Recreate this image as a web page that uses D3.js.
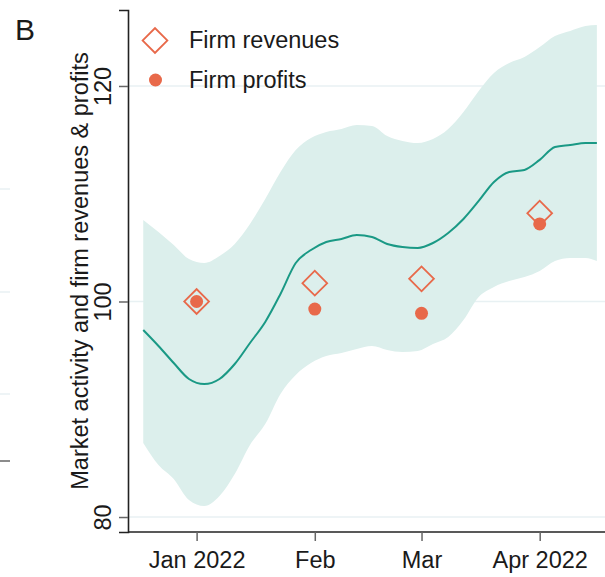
<!DOCTYPE html>
<html>
<head>
<meta charset="utf-8">
<script src="https://cdn.jsdelivr.net/npm/d3@7"></script>
<style>
  body { margin: 0; background: #fff; }
  svg { display: block; font-family: "Liberation Sans", Arial, sans-serif; }
</style>
</head>
<body>
<div id="chart"></div>
<script>
  // smoothed market activity, every 4 days
  var dates = ["2021-12-18", "2021-12-22", "2021-12-26", "2021-12-30", "2022-01-03",
    "2022-01-07", "2022-01-11", "2022-01-15", "2022-01-19", "2022-01-23", "2022-01-27",
    "2022-01-31", "2022-02-04", "2022-02-08", "2022-02-12", "2022-02-16", "2022-02-20",
    "2022-02-24", "2022-02-28", "2022-03-04", "2022-03-08", "2022-03-12", "2022-03-16",
    "2022-03-20", "2022-03-24", "2022-03-28", "2022-04-01", "2022-04-05", "2022-04-09",
    "2022-04-13", "2022-04-16"];
  var activity = [97.35, 95.87, 94.29, 92.81, 92.34, 92.81, 94.2, 96.15, 98.1, 100.7,
    103.57, 104.78, 105.52, 105.8, 106.17, 105.99, 105.34, 105.06, 104.97, 105.43,
    106.36, 107.66, 109.33, 111.09, 112.02, 112.21, 113.14, 114.34, 114.53, 114.71, 114.71];
  var upper = [107.56, 106.45, 105.24, 103.94, 103.57, 104.22, 105.34, 107.19, 109.51,
    112.02, 114.06, 115.17, 115.73, 116.01, 116.38, 116.29, 115.36, 114.9, 114.71, 115.08,
    116.01, 117.59, 119.54, 121.21, 122.14, 122.69, 123.62, 124.64, 125.11, 125.57, 125.66];
  var lower = [86.87, 84.83, 83.53, 81.58, 81.02, 81.95, 83.99, 86.68, 88.63, 91.42,
    93.18, 94.29, 94.94, 95.22, 95.59, 95.87, 95.5, 95.31, 95.41, 96.06, 96.71, 98.28,
    100.42, 101.35, 101.9, 102.27, 102.83, 103.76, 104.04, 104.04, 103.76];

  // monthly firm data
  var months = ["2022-01-01", "2022-02-01", "2022-03-01", "2022-04-01"];
  var monthLabels = ["Jan 2022", "Feb", "Mar", "Apr 2022"];
  var revenues = [100, 101.7, 102.1, 108.2];
  var profits = [100, 99.3, 98.9, 107.2];

  var yTicks = [80, 100, 120];

  var svgWidth = 605;
  var svgHeight = 577;
  var margin = { top: 10, left: 128, bottom: 45, right: 0 };

  var orange = "#e8694a";
  var teal = "#1a9985";
  var band = "#dcefec";
  var grid = "#e8f1f3";
  var fontSize = "23.5px";

  var parse = d3.timeParse("%Y-%m-%d");

  var svg = d3.select("#chart")
    .append("svg")
    .attr("width", svgWidth)
    .attr("height", svgHeight);

  var x = d3.scaleTime()
    .domain([parse("2021-12-14"), parse("2022-04-18")])
    .range([margin.left, 604.5]);

  var y = d3.scaleLinear()
    .domain([78.61, 127.05])
    .range([svgHeight - margin.bottom, margin.top]);

  // bits of the neighbouring panel peeking in at the left edge
  [189, 292, 394].forEach(function(yy) {
    svg.append("line").attr("x1", 0).attr("x2", 10).attr("y1", yy).attr("y2", yy)
      .attr("stroke", grid).attr("stroke-width", 1.5);
  });
  svg.append("line").attr("x1", 0).attr("x2", 10).attr("y1", 461).attr("y2", 461)
    .attr("stroke", "#666").attr("stroke-width", 1.5);

  // gridlines
  svg.append("g")
    .selectAll("line")
    .data(yTicks)
    .enter()
    .append("line")
    .attr("x1", margin.left)
    .attr("x2", svgWidth)
    .attr("y1", d => y(d))
    .attr("y2", d => y(d))
    .attr("stroke", grid)
    .attr("stroke-width", 1.5);

  var series = dates.map(function(d, i) {
    return { date: parse(d), v: activity[i], lo: lower[i], hi: upper[i] };
  });

  var area = d3.area()
    .x(d => x(d.date))
    .y0(d => y(d.lo))
    .y1(d => y(d.hi))
    .curve(d3.curveMonotoneX);

  svg.append("path")
    .datum(series)
    .attr("d", area)
    .attr("fill", band);

  var line = d3.line()
    .x(d => x(d.date))
    .y(d => y(d.v))
    .curve(d3.curveMonotoneX);

  svg.append("path")
    .datum(series)
    .attr("d", line)
    .attr("fill", "none")
    .attr("stroke", teal)
    .attr("stroke-width", 2);

  var firm = months.map(function(m, i) {
    return { date: parse(m), rev: revenues[i], prof: profits[i] };
  });

  var diamond = d3.symbol().type(d3.symbolSquare).size(306);

  svg.append("g")
    .selectAll("path")
    .data(firm)
    .enter()
    .append("path")
    .attr("d", diamond)
    .attr("transform", d => `translate(${x(d.date)}, ${y(d.rev)}) rotate(45)`)
    .attr("fill", "none")
    .attr("stroke", orange)
    .attr("stroke-width", 1.8);

  svg.append("g")
    .selectAll("circle")
    .data(firm)
    .enter()
    .append("circle")
    .attr("cx", d => x(d.date))
    .attr("cy", d => y(d.prof))
    .attr("r", 6.5)
    .attr("fill", orange);

  // axes
  var xAxis = d3.axisBottom(x)
    .tickValues(firm.map(d => d.date))
    .tickFormat((d, i) => monthLabels[i])
    .tickSizeOuter(0)
    .tickSize(9);

  var gx = svg.append("g")
    .attr("transform", `translate(0, ${svgHeight - margin.bottom})`)
    .call(xAxis);
  gx.select(".domain").attr("d", `M${margin.left},0H${svgWidth}`)
    .attr("stroke", "#222").attr("stroke-width", 1.6);
  gx.selectAll(".tick line").attr("stroke", "#666").attr("stroke-width", 1.5);
  gx.selectAll(".tick text")
    .attr("y", 36)
    .attr("dy", 0)
    .attr("font-size", fontSize)
    .attr("font-family", "Liberation Sans, Arial, sans-serif")
    .attr("fill", "#1a1a1a");

  var yAxis = d3.axisLeft(y)
    .tickValues(yTicks)
    .tickSizeOuter(0)
    .tickSize(9);

  var gy = svg.append("g")
    .attr("transform", `translate(${margin.left}, 0)`)
    .call(yAxis);
  gy.select(".domain").attr("stroke", "#222").attr("stroke-width", 1.6);
  gy.selectAll(".tick line").attr("stroke", "#666").attr("stroke-width", 1.5);
  gy.selectAll(".tick text")
    .attr("transform", "rotate(-90)")
    .attr("x", 0)
    .attr("y", -17)
    .attr("dy", 0)
    .attr("text-anchor", "middle")
    .attr("font-size", fontSize)
    .attr("font-family", "Liberation Sans, Arial, sans-serif")
    .attr("fill", "#1a1a1a");

  svg.append("text")
    .attr("transform", "translate(88, 271) rotate(-90)")
    .attr("text-anchor", "middle")
    .attr("font-size", fontSize)
    .attr("fill", "#1a1a1a")
    .text("Market activity and firm revenues & profits");

  // panel letter
  svg.append("text")
    .attr("x", 15)
    .attr("y", 40)
    .attr("font-size", "30px")
    .attr("fill", "#1a1a1a")
    .text("B");

  // legend
  var legend = svg.append("g");
  legend.append("path")
    .attr("d", diamond)
    .attr("transform", "translate(155, 40.5) rotate(45)")
    .attr("fill", "none")
    .attr("stroke", orange)
    .attr("stroke-width", 1.8);
  legend.append("text")
    .attr("x", 189)
    .attr("y", 48)
    .attr("font-size", fontSize)
    .attr("fill", "#1a1a1a")
    .text("Firm revenues");
  legend.append("circle")
    .attr("cx", 155.5)
    .attr("cy", 80)
    .attr("r", 6.5)
    .attr("fill", orange);
  legend.append("text")
    .attr("x", 189)
    .attr("y", 88)
    .attr("font-size", fontSize)
    .attr("fill", "#1a1a1a")
    .text("Firm profits");
</script>
</body>
</html>
